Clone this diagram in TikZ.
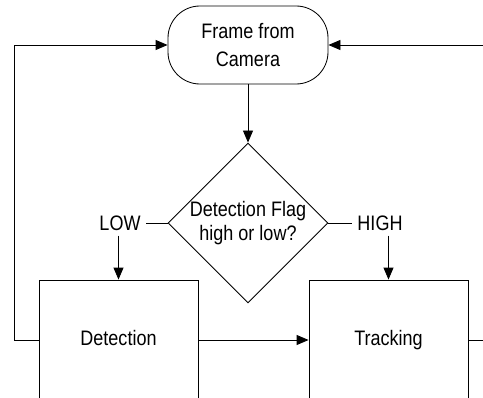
\documentclass[tikz,border=0pt]{standalone}
\usepackage{fontspec}
\setmainfont{Liberation Sans}[FakeStretch=0.86]
\usepackage{tikz}
\usetikzlibrary{shapes.geometric,arrows.meta}
\usetikzlibrary{positioning,calc}

\begin{document}
\begin{tikzpicture}[font=\fontsize{14.9}{16.6}\selectfont, line width=0.6pt,
		term_node/.style={draw,rounded corners=0.8cm,minimum width=4cm,minimum height=1.95cm,align=center,font=\fontsize{14.9}{19.5}\selectfont},
		flag_node/.style={diamond,draw,aspect=1,inner sep=0pt,minimum size=4cm,align=center},
		box_node/.style={draw,minimum width=3.975cm,minimum height=3cm,text height=1.6ex,text depth=0.25ex},
		arr/.style={-{Triangle[length=0.3cm,width=0.25cm]}}]
				\useasboundingbox (0,0) rectangle (12.075,9.925);
				\clip (0,0) rectangle (12.075,9.925);
				\node[term_node](cam) at (6.2,8.8){Frame from\\Camera};
				\node[flag_node](flag) at (6.2,4.35){Detection Flag\\high or low?};
				\node(low) at (3.0,4.35){LOW};
				\node(high) at (9.5,4.35){HIGH};
				\node[box_node](det) at (2.9625,1.425){Detection};
				\node[box_node](track) at (9.7125,1.425){Tracking};
				\coordinate(lp) at (0.35,0);
				\coordinate(rp) at (12.5,0);
				\path[every edge/.style={draw,arr}]
				(cam) edge (flag)
				(det) edge (track)
				(det.north |- low.south) edge (det.north)
				(track.north |- high.south) edge (track.north);
				\draw (flag.west) -- (low.east);
				\draw (flag.east) -- (high.west);
				\draw[arr] (det.west) -- (det.west -| lp) |- (cam.west);
				\draw (track.east) -- (track.east -| rp);
				\draw[arr] (cam.east -| rp) -- (cam.east);
			\end{tikzpicture}
\end{document}
